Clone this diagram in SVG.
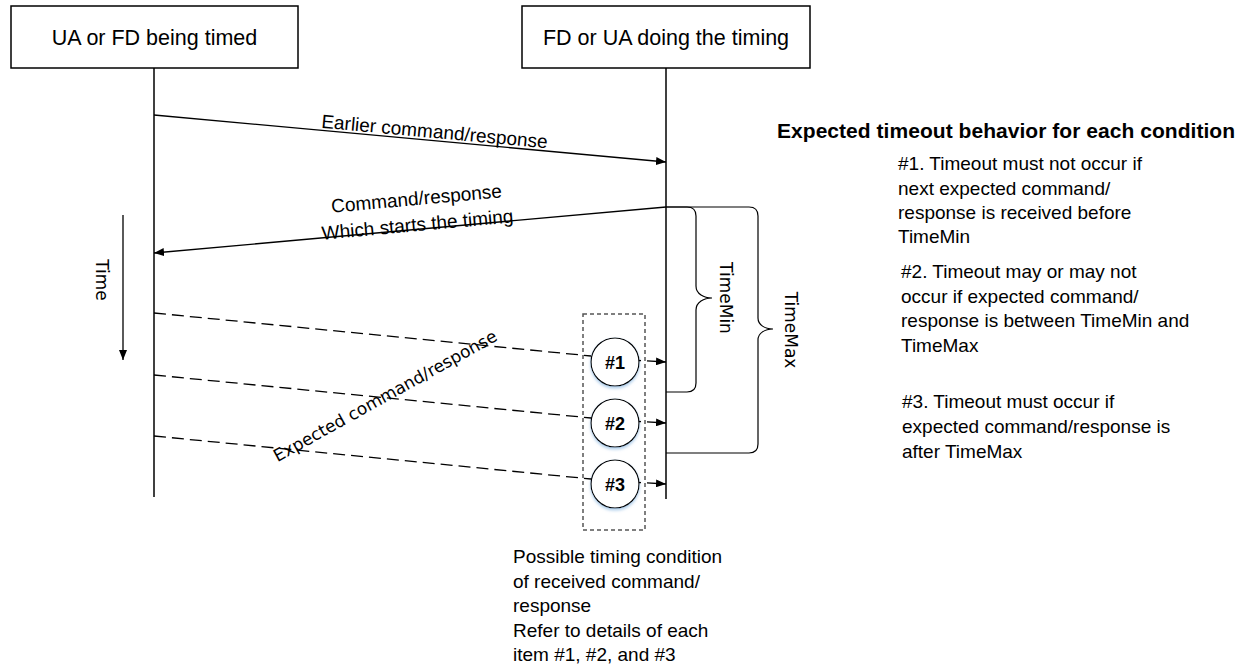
<svg xmlns="http://www.w3.org/2000/svg" width="1244" height="667" viewBox="0 0 1244 667">
<style>
.box{fill:#fff;stroke:#000;stroke-width:1.5}
.life{stroke:#000;stroke-width:1.5;fill:none}
.msg{stroke:#000;stroke-width:1.3;fill:none}
.dash{stroke:#000;stroke-width:1.3;fill:none;stroke-dasharray:12 6}
.brace{stroke:#000;stroke-width:1.2;fill:none}
.lbl{font-family:"Liberation Sans",Arial,sans-serif;font-size:19px;fill:#000}
.big{font-family:"Liberation Sans",Arial,sans-serif;font-size:21.5px;fill:#000}
.rot{font-family:"DejaVu Sans",Verdana,sans-serif;font-size:17px;fill:#000}
.num{font-family:"Liberation Sans",Arial,sans-serif;font-size:18px;font-weight:bold;fill:#000}
.circ{fill:#fff;stroke:#000;stroke-width:1.2}
</style>
<defs>
<marker id="ah" markerWidth="10" markerHeight="8" refX="10" refY="4" orient="auto" markerUnits="userSpaceOnUse">
<path d="M0,0 L10,4 L0,8 Z" fill="#000"/>
</marker>
<filter id="glow" x="-30%" y="-30%" width="160%" height="170%">
<feDropShadow dx="0" dy="2" stdDeviation="1.5" flood-color="#9cc3e6" flood-opacity="0.8"/>
</filter>
</defs>

<g id="node-ua-fd-timed">
<rect class="box" x="11" y="6" width="287" height="62"/>
<text class="big" x="154.5" y="45" text-anchor="middle">UA or FD being timed</text>
<line class="life" x1="154" y1="68" x2="154" y2="497"/>
</g>

<g id="node-fd-ua-timing">
<rect class="box" x="522" y="6" width="288" height="62"/>
<text class="big" x="666" y="45" text-anchor="middle">FD or UA doing the timing</text>
<line class="life" x1="666" y1="68" x2="666" y2="499"/>
</g>

<g id="node-time">
<line class="msg" x1="123" y1="215" x2="123" y2="360" marker-end="url(#ah)"/>
<text class="rot" x="96" y="280" text-anchor="middle" transform="rotate(90 96 280)">Time</text>
</g>

<g id="node-conditions">
<rect x="583" y="314" width="62" height="216" fill="none" stroke="#555" stroke-width="1.5" stroke-dasharray="4 3"/>
<g id="node-c1">
<circle class="circ" cx="615" cy="362" r="24" filter="url(#glow)"/>
<text class="num" x="615" y="368.5" text-anchor="middle">#1</text>
</g>
<g id="node-c2">
<circle class="circ" cx="615" cy="423" r="24" filter="url(#glow)"/>
<text class="num" x="615" y="429.5" text-anchor="middle">#2</text>
</g>
<g id="node-c3">
<circle class="circ" cx="615" cy="484" r="24" filter="url(#glow)"/>
<text class="num" x="615" y="490.5" text-anchor="middle">#3</text>
</g>
<text class="lbl">
<tspan x="513" y="563">Possible timing condition</tspan>
<tspan x="513" y="587.5">of received command/</tspan>
<tspan x="513" y="612">response</tspan>
<tspan x="513" y="636.5">Refer to details of each</tspan>
<tspan x="513" y="661">item #1, #2, and #3</tspan>
</text>
</g>

<g id="node-timemin">
<path class="brace" d="M666,207 H687 Q696,207 696,216 V286 C696,294 704,298 712,298 C704,298 696,302 696,310 V383 Q696,392 687,392 H666"/>
<text class="rot" x="720" y="298" text-anchor="middle" transform="rotate(90 720 298)">TimeMin</text>
</g>

<g id="node-timemax">
<path class="brace" d="M666,207 H749 Q758,207 758,216 V318 C758,325 765,329 773,329 C765,329 758,333 758,340 V444 Q758,453 749,453 H666"/>
<text class="rot" x="785" y="330" text-anchor="middle" transform="rotate(90 785 330)">TimeMax</text>
</g>

<g id="node-legend">
<text font-family="'Liberation Sans',Arial,sans-serif" font-size="21px" font-weight="bold" x="777" y="138" textLength="458">Expected timeout behavior for each condition</text>
<text class="lbl">
<tspan x="898" y="170">#1. Timeout must not occur if</tspan>
<tspan x="898" y="194.5">next expected command/</tspan>
<tspan x="898" y="218.5">response is received before</tspan>
<tspan x="898" y="243">TimeMin</tspan>
</text>
<text class="lbl">
<tspan x="901" y="278">#2. Timeout may or may not</tspan>
<tspan x="901" y="302.5">occur if expected command/</tspan>
<tspan x="901" y="327">response is between TimeMin and</tspan>
<tspan x="901" y="351.5">TimeMax</tspan>
</text>
<text class="lbl">
<tspan x="902" y="408">#3. Timeout must occur if</tspan>
<tspan x="902" y="433">expected command/response is</tspan>
<tspan x="902" y="458">after TimeMax</tspan>
</text>
</g>

<g id="connectors">
<line class="msg" x1="154" y1="115" x2="666" y2="162" marker-end="url(#ah)"/>
<text class="lbl" x="434" y="138" text-anchor="middle" transform="rotate(5.2 434 138)">Earlier command/response</text>
<line class="msg" x1="666" y1="207" x2="154" y2="253" marker-end="url(#ah)"/>
<text class="lbl" x="417" y="205" text-anchor="middle" transform="rotate(-5.2 417 205)">Command/response</text>
<text class="lbl" x="418" y="231" text-anchor="middle" transform="rotate(-5.2 418 231)">Which starts the timing</text>

<line class="dash" x1="154" y1="313" x2="591" y2="356"/>
<line class="dash" x1="154" y1="375" x2="591" y2="418"/>
<line class="dash" x1="154" y1="436" x2="591" y2="479"/>
<line class="msg" x1="639" y1="360.5" x2="666" y2="362" stroke-dasharray="2 6 30" marker-end="url(#ah)"/>
<line class="msg" x1="639" y1="421.5" x2="666" y2="423" stroke-dasharray="2 6 30" marker-end="url(#ah)"/>
<line class="msg" x1="639" y1="482.5" x2="666" y2="484" stroke-dasharray="2 6 30" marker-end="url(#ah)"/>
<text class="rot" x="388" y="401" text-anchor="middle" transform="rotate(-29 388 401)">Expected command/response</text>
</g>
</svg>
